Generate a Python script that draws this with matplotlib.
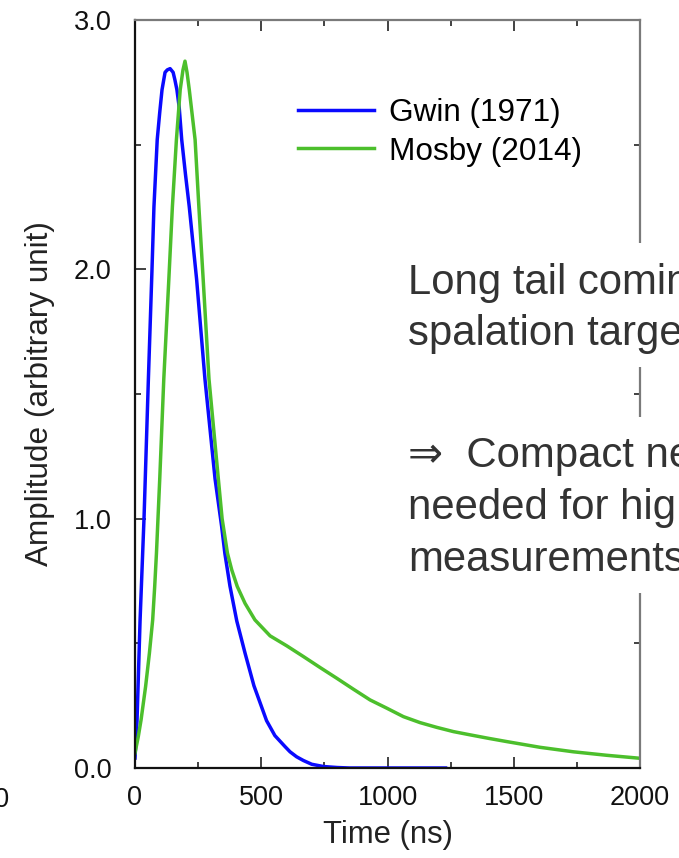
import numpy as np
import matplotlib
matplotlib.use("Agg")
import matplotlib.pyplot as plt
from matplotlib.patches import Rectangle
from matplotlib.ticker import MultipleLocator, FormatStrFormatter

plt.rcParams['font.family'] = ['Liberation Sans', 'DejaVu Sans']

# pulse shapes, time in ns
gwin_t = [0, 8, 20, 36, 53, 67, 75, 88, 98, 107, 119, 128, 139, 151, 158, 166,
          175, 185, 200, 215, 230, 244, 277, 317, 343, 356, 376, 403, 436, 471,
          521, 554, 594, 614, 640, 667, 700, 746, 800, 850, 1230]
gwin_a = [0.04, 0.19, 0.59, 1.01, 1.56, 1.99, 2.25, 2.52, 2.63, 2.72, 2.79, 2.80,
          2.805, 2.79, 2.76, 2.72, 2.65, 2.52, 2.38, 2.25, 2.1, 1.96, 1.56, 1.16,
          0.97, 0.86, 0.73, 0.59, 0.46, 0.33, 0.19, 0.13, 0.086, 0.065, 0.045,
          0.03, 0.015, 0.006, 0.002, 0.0, 0.0]

mosby_t = [0, 13, 24, 42, 57, 70, 78, 85, 91, 98, 114, 134, 148, 164, 179, 190,
           198, 206, 215, 238, 253, 270, 293, 330, 345, 366, 383, 405, 436, 475,
           535, 601, 667, 733, 799, 865, 931, 997, 1063, 1129, 1195, 1261, 1327,
           1400, 1472, 1604, 1736, 1868, 2000]
mosby_a = [0.06, 0.126, 0.193, 0.327, 0.46, 0.594, 0.728, 0.862, 1.0, 1.16, 1.56,
           1.96, 2.25, 2.52, 2.72, 2.80, 2.835, 2.79, 2.72, 2.52, 2.25, 1.96, 1.56,
           1.16, 1.0, 0.862, 0.795, 0.728, 0.66, 0.594, 0.53, 0.49, 0.447, 0.403,
           0.36, 0.316, 0.273, 0.24, 0.206, 0.182, 0.163, 0.146, 0.133, 0.119,
           0.106, 0.083, 0.065, 0.051, 0.039]

labels = ["Gwin (1971)", "Mosby (2014)"]
colors = ["#0a0aff", "#4cbf2c"]

W, H = 679, 858
fig = plt.figure(figsize=(W / 100, H / 100), dpi=100)
ax = fig.add_axes([135 / W, 1 - 768 / H, 505 / W, 748 / H])

ax.plot(gwin_t, gwin_a, color=colors[0], lw=2.5, label=labels[0])
ax.plot(mosby_t, mosby_a, color=colors[1], lw=2.5, label=labels[1])

ax.set_xlim(0, 2000)
ax.set_ylim(0, 3.0)
ax.xaxis.set_major_locator(MultipleLocator(500))
ax.xaxis.set_minor_locator(MultipleLocator(250))
ax.yaxis.set_major_locator(MultipleLocator(1.0))
ax.yaxis.set_minor_locator(MultipleLocator(0.5))
ax.yaxis.set_major_formatter(FormatStrFormatter('%.1f'))
ax.tick_params(which='both', direction='in', top=True, right=True, width=1.3,
               colors='#333333', labelcolor='#111111', labelsize=19.5)
ax.tick_params(which='major', length=8)
ax.tick_params(which='minor', length=4)
ax.tick_params(axis='y', pad=17)
ax.tick_params(axis='x', pad=12)

for side in ['left', 'bottom']:
    ax.spines[side].set_color('#111111')
    ax.spines[side].set_linewidth(1.6)
for side in ['top', 'right']:
    ax.spines[side].set_color('#7a7a7a')
    ax.spines[side].set_linewidth(1.6)

ax.set_xlabel("Time (ns)", fontsize=22.3, color='#222222', labelpad=7)
ax.set_ylabel("Amplitude (arbitrary unit)", fontsize=22.7, color='#222222', labelpad=13)

ax.legend(loc='upper left', bbox_to_anchor=(298 / W, 1 - 98 / H),
          bbox_transform=fig.transFigure, frameon=False, fontsize=22.7,
          handlelength=2.4, handletextpad=0.5, labelspacing=0.27,
          borderpad=0, borderaxespad=0)

# tick label of the neighbouring panel on the left
fig.text(10 / W, 1 - 807 / H, "2000", ha='right', va='baseline',
         fontsize=19.5, color='#111111')

# white boxes behind the notes
fig.patches.append(Rectangle((395 / W, 1 - 367 / H), 1, 124 / H,
                             transform=fig.transFigure, facecolor='white',
                             edgecolor='none', zorder=2))
fig.patches.append(Rectangle((395 / W, 1 - 593 / H), 1, 176 / H,
                             transform=fig.transFigure, facecolor='white',
                             edgecolor='none', zorder=2))

# va='baseline' pins the last line of a multi-line text
fig.text(408 / W, 1 - 345 / H, "Long tail coming from the\nspalation target",
         va='baseline', fontsize=30.2, color='#333333', linespacing=1.34, zorder=3)
fig.text(408 / W, 1 - 571 / H,
         "\u21d2  Compact neutron source\nneeded for high resolution\nmeasurements",
         va='baseline', fontsize=30.2, color='#333333', linespacing=1.39, zorder=3)

fig.savefig("out.png", dpi=100)
